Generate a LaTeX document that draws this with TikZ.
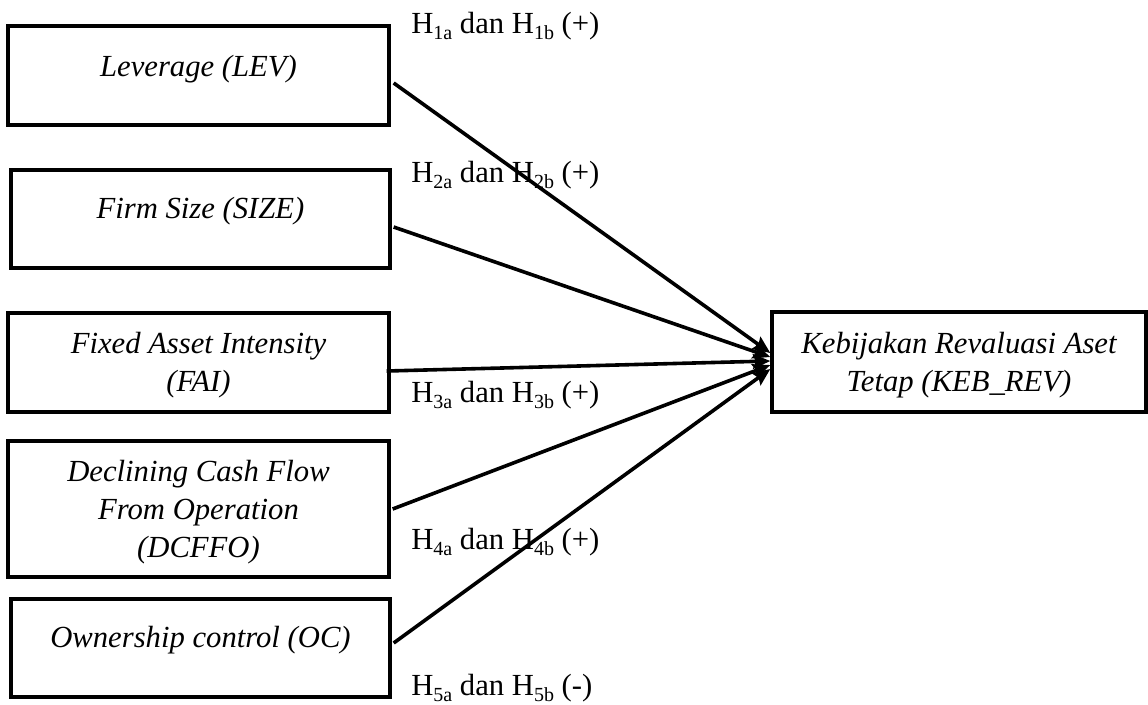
\documentclass[tikz,border=0pt]{standalone}
\usepackage{fontspec}
\setmainfont{Liberation Serif}
\usetikzlibrary{calc,arrows.meta}
\newcommand{\hsub}[1]{\raisebox{-0.2em}{\fontsize{15}{15}\selectfont #1}}
\begin{document}
\begin{tikzpicture}[x=0.75pt,y=-0.75pt,
  box/.style={draw,line width=2.5pt,inner sep=0pt},
  txt/.style={font=\fontsize{23}{28.5}\selectfont\itshape,align=center,inner sep=0pt},
  hyp/.style={font=\fontsize{23}{26}\selectfont,anchor=base west,inner sep=0pt},
  conn/.style={line width=2.7pt,-{Stealth[length=13pt,width=11pt,inset=2pt]}}]
\useasboundingbox (0,0) rectangle (1148,704);
% boxes
\node[box,minimum width=285.75pt,minimum height=74.25pt] (lev) at (198.5,75.5) {};
\node[box,minimum width=284.25pt,minimum height=73.5pt] (size) at (200.5,219) {};
\node[box,minimum width=285.75pt,minimum height=74.25pt] (fai) at (198.5,362.5) {};
\node[box,minimum width=285.75pt,minimum height=102pt] (dc) at (198.5,509) {};
\node[box,minimum width=284.25pt,minimum height=73.5pt] (oc) at (200.5,648) {};
\node[box,minimum width=280.5pt,minimum height=75pt] (keb) at (959,362) {};
% texts
\node[txt,anchor=base] (levt) at (198.5,76) {Leverage (LEV)};
\node[txt,anchor=base] (sizet) at (200.5,218) {Firm Size (SIZE)};
\node[txt] (fait) at (198.5,365) {Fixed Asset Intensity\\(FAI)};
\node[txt] (dct) at (198.5,512) {Declining Cash Flow\\From Operation\\(DCFFO)};
\node[txt,anchor=base] (oct) at (200.5,647) {Ownership control (OC)};
\node[txt] (kebt) at (959,365) {Kebijakan Revaluasi Aset\\Tetap (KEB\_REV)};
% hypothesis labels
\node[hyp] (h1) at (411,33) {H\hsub{1a} dan H\hsub{1b} (+)};
\node[hyp] (h2) at (411,182) {H\hsub{2a} dan H\hsub{2b} (+)};
\node[hyp] (h3) at (411,402) {H\hsub{3a} dan H\hsub{3b} (+)};
\node[hyp] (h4) at (411,549) {H\hsub{4a} dan H\hsub{4b} (+)};
\node[hyp] (h5) at (411,695) {H\hsub{5a} dan H\hsub{5b} (-)};
% connectors
\draw[conn] ($(lev.east)+(3,7.5)$) -- ($(keb.west)+(0,-9)$);
\draw[conn] ($(size.east)+(2,8)$) -- ($(keb.west)+(0,-5)$);
\draw[conn] ($(fai.east)+(-4,8.5)$) -- ($(keb.west)+(0,-1)$);
\draw[conn] ($(dc.east)+(2,0)$) -- ($(keb.west)+(0,3)$);
\draw[conn] ($(oc.east)+(2,-5)$) -- ($(keb.west)+(0,7)$);
\end{tikzpicture}
\end{document}
